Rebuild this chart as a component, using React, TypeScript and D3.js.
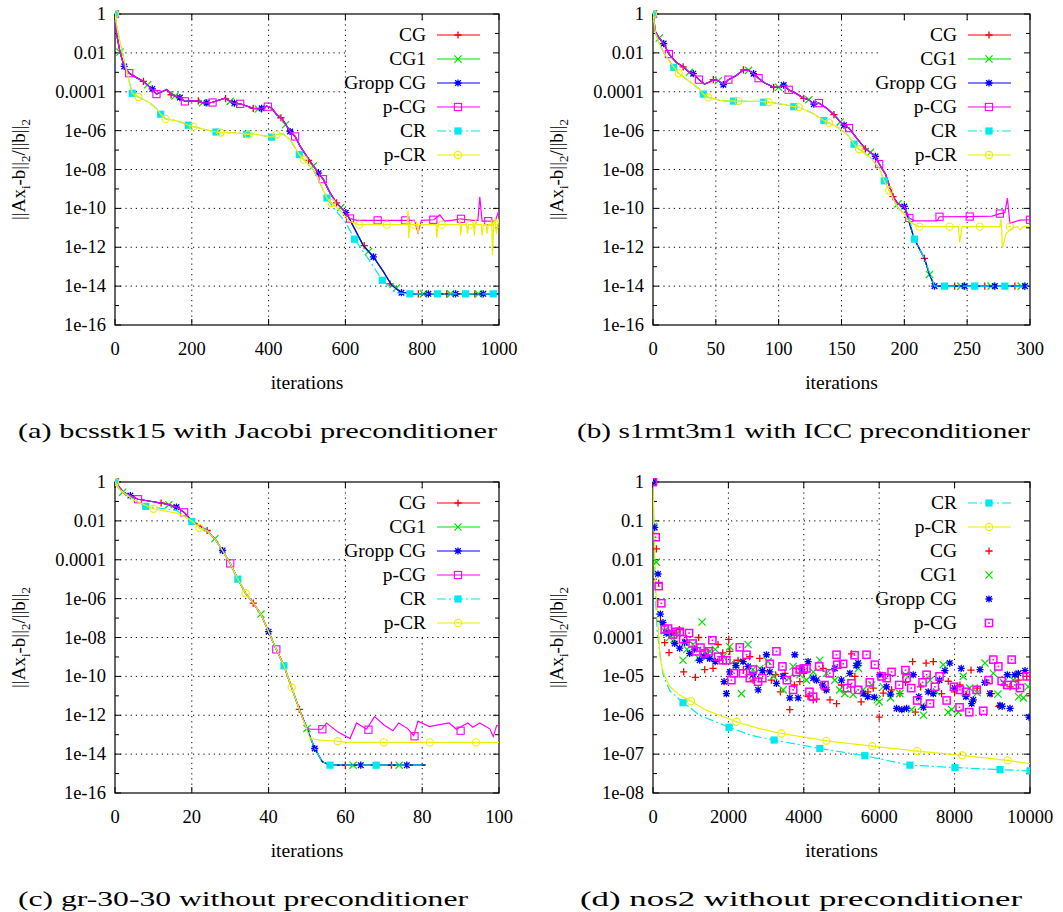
import React from 'react';
import * as d3 from 'd3';

type Pt = [number, number];

// ---------- shared tick labels ----------
const yLabelsWide = ['1', '0.01', '0.0001', '1e-06', '1e-08', '1e-10', '1e-12', '1e-14', '1e-16'];
const yLabelsNarrow = ['1', '0.1', '0.01', '0.001', '0.0001', '1e-05', '1e-06', '1e-07', '1e-08'];
const xTicksA = [0, 200, 400, 600, 800, 1000];
const xTicksB = [0, 50, 100, 150, 200, 250, 300];
const xTicksC = [0, 20, 40, 60, 80, 100];
const xTicksD = [0, 2000, 4000, 6000, 8000, 10000];
const legendOrder = ['CG', 'CG1', 'Gropp CG', 'p-CG', 'CR', 'p-CR'];
const legendOrderD = ['CR', 'p-CR', 'CG', 'CG1', 'Gropp CG', 'p-CG'];
const captions = [
  '(a) bcsstk15 with Jacobi preconditioner',
  '(b) s1rmt3m1 with ICC preconditioner',
  '(c) gr-30-30 without preconditioner',
  '(d) nos2 without preconditioner',
];

// ---------- (a) bcsstk15 ----------
const aCG: Pt[] = [[0, 1], [4, 1e-1], [13, 1.1e-2], [24, 2e-3], [37, 9e-4], [55, 5.5e-4], [74, 3.4e-4], [95, 1.4e-4], [108, 7.6e-5], [122, 1e-4], [135, 1.3e-4], [148, 6.8e-5], [169, 5e-5], [182, 3.2e-5], [213, 3.5e-5], [230, 2.6e-5], [252, 2.8e-5], [286, 4.7e-5], [308, 2.6e-5], [326, 2.4e-5], [360, 1.4e-5], [378, 1.3e-5], [395, 1.8e-5], [408, 1.45e-5], [421, 6.6e-6], [434, 4.5e-6], [456, 9e-7], [469, 5e-7], [482, 1.6e-7], [508, 2.6e-8], [530, 6.5e-9], [543, 3e-9], [560, 6.3e-10], [577, 1.9e-10], [603, 5.6e-11], [646, 1.3e-12], [673, 3.2e-13], [699, 5.6e-14], [720, 1.15e-14], [742, 5.2e-15], [768, 4e-15], [1000, 4e-15]];
const aCGMarks: Pt[] = [[0, 1], [74, 3.4e-4], [146, 7e-5], [217, 3.4e-5], [288, 4.4e-5], [360, 1.4e-5], [432, 4.6e-6], [504, 2.9e-8], [577, 1.9e-10], [649, 1.2e-12], [716, 1.3e-14], [790, 4e-15], [864, 4e-15], [937, 4e-15]];
const aCG1Marks: Pt[] = [[13, 1.1e-2], [85, 2.3e-4], [156, 6e-5], [228, 2.7e-5], [300, 3.2e-5], [373, 1.3e-5], [444, 2e-6], [516, 1.5e-8], [588, 1.1e-10], [660, 6e-13], [733, 8e-15], [803, 4e-15], [874, 4e-15], [946, 4e-15]];
const aGroppMarks: Pt[] = [[24, 2e-3], [97, 1.4e-4], [169, 5e-5], [239, 2.7e-5], [311, 2.6e-5], [382, 1.4e-5], [456, 9e-7], [530, 6.5e-9], [601, 6e-11], [673, 3.2e-13], [746, 4.6e-15], [816, 4e-15], [887, 4e-15], [959, 4e-15]];
const aPCGTail: Pt[] = [[612, 3e-11], [630, 2.4e-11], [780, 2.4e-11], [789, 5.5e-12], [798, 2.4e-11], [830, 2.6e-11], [846, 4.6e-11], [858, 2.2e-11], [880, 2.5e-11], [900, 2.9e-11], [930, 2.4e-11], [945, 2.4e-11], [950, 3.9e-10], [956, 2.2e-11], [990, 2.2e-11], [1000, 8e-11]];
const aPCGMarks: Pt[] = [[0, 1], [37, 9e-4], [108, 7.6e-5], [182, 3.2e-5], [254, 2.8e-5], [326, 2.4e-5], [398, 1.7e-5], [469, 5e-7], [541, 3.2e-9], [612, 3e-11], [684, 2.4e-11], [756, 2.4e-11], [829, 2.6e-11], [901, 2.9e-11], [972, 2.2e-11]];
const aCR: Pt[] = [[0, 1], [6, 1.6e-1], [22, 6e-3], [39, 2.3e-4], [45, 8.3e-5], [61, 5.4e-5], [87, 3e-5], [108, 1.4e-5], [119, 7e-6], [132, 4e-6], [161, 3.2e-6], [191, 1.9e-6], [204, 1.6e-6], [239, 1.1e-6], [263, 8.5e-7], [275, 7.8e-7], [308, 8e-7], [343, 6.6e-7], [360, 6.8e-7], [386, 5.5e-7], [408, 4.6e-7], [421, 6.3e-7], [437, 6.8e-7], [456, 3.4e-7], [480, 5.9e-8], [492, 3.2e-8], [516, 1e-8], [530, 3e-9], [552, 3.4e-10], [570, 1e-10], [600, 2e-11], [624, 2.6e-12], [660, 2.5e-13], [696, 2e-14], [733, 4.5e-15], [768, 4e-15], [1000, 4e-15]];
const aCRMarks: Pt[] = [[0, 1], [45, 8.3e-5], [119, 7e-6], [191, 1.9e-6], [263, 8.5e-7], [343, 6.6e-7], [408, 4.6e-7], [480, 5.9e-8], [552, 3.4e-10], [624, 2.6e-12], [696, 2e-14], [768, 4e-15], [840, 4e-15], [913, 4e-15], [985, 4e-15]];
const aPCRTail: Pt[] = [[564, 1.9e-10], [586, 8e-11], [599, 4e-11], [612, 2.1e-11], [634, 1.45e-11], [760, 1.45e-11], [763, 8e-11], [765, 3e-12], [768, 1.45e-11], [787, 1.45e-11], [789, 5e-12], [792, 1.45e-11], [836, 1.45e-11], [838, 3e-12], [841, 1.45e-11], [896, 1.45e-11], [898, 3e-11], [900, 4e-12], [903, 1.45e-11], [916, 1.45e-11], [918, 5e-12], [921, 1.45e-11], [934, 1.45e-11], [936, 4e-12], [939, 3e-11], [942, 1.45e-11], [954, 1.45e-11], [956, 4e-12], [959, 1.45e-11], [967, 1.45e-11], [969, 5e-12], [972, 1.45e-11], [979, 1.45e-11], [981, 2.5e-11], [983, 4e-13], [986, 1.45e-11], [990, 3e-11], [993, 5e-12], [997, 1.45e-11], [1000, 3e-11]];
const aPCRMarks: Pt[] = [[0, 1], [61, 5.4e-5], [132, 4e-6], [204, 1.6e-6], [275, 7.8e-7], [348, 6.3e-7], [421, 6.3e-7], [492, 3.2e-8], [564, 1.9e-10], [636, 1.45e-11], [708, 1.45e-11], [778, 1.45e-11], [851, 1.45e-11], [924, 1.45e-11], [993, 1.45e-11]];

// ---------- (b) s1rmt3m1 ----------
const bCG: Pt[] = [[0, 1], [2, 1.2e-1], [5, 5.8e-2], [8.5, 3e-2], [12.7, 8.7e-3], [18.6, 3.2e-3], [24.4, 1.9e-3], [28, 1.1e-3], [32, 8.5e-4], [36.6, 4.2e-4], [41, 2.5e-4], [45, 3.2e-4], [48, 4.2e-4], [52, 3.7e-4], [56, 2.3e-4], [60, 4.2e-4], [66, 6.6e-4], [72, 1.35e-3], [76, 1.26e-3], [80, 8.5e-4], [84, 5e-4], [89, 2.8e-4], [96, 1.7e-4], [100, 1.7e-4], [104, 2.2e-4], [108, 1.26e-4], [114, 8e-5], [120, 4.6e-5], [124, 3.9e-5], [128, 2.3e-5], [132, 2.6e-5], [138, 1.45e-5], [144, 6.6e-6], [149, 2.8e-6], [152, 1.9e-6], [156, 1.35e-6], [163, 3.4e-7], [169, 1.15e-7], [173, 7.6e-8], [177, 4.7e-8], [180, 1.9e-8], [185, 5.8e-9], [191, 4e-10], [195, 1.7e-10], [200, 1.26e-10], [208, 2.6e-12], [216, 2.7e-13], [220, 4e-14], [224, 1e-14], [298, 1e-14]];
const bCGMarks: Pt[] = [[0, 1], [24, 1.9e-3], [48, 4.2e-4], [72, 1.35e-3], [96, 1.7e-4], [120, 4.6e-5], [144, 6.6e-6], [169, 1.15e-7], [191, 4e-10], [216, 2.7e-13], [240, 1e-14], [264, 1e-14], [288, 1e-14]];
const bCG1Marks: Pt[] = [[5, 5.8e-2], [29, 1e-3], [52, 3.7e-4], [76, 1.26e-3], [100, 1.7e-4], [124, 3.9e-5], [149, 2.8e-6], [173, 7.6e-8], [195, 1.7e-10], [220, 4e-14], [245, 1e-14], [269, 1e-14], [293, 1e-14]];
const bGroppMarks: Pt[] = [[8.5, 3e-2], [32, 8.5e-4], [56, 2.3e-4], [80, 8.5e-4], [104, 2.2e-4], [128, 2.3e-5], [152, 1.9e-6], [177, 4.7e-8], [200, 1.26e-10], [224, 1e-14], [248, 1e-14], [272, 1e-14], [296, 1e-14]];
const bPCGTail: Pt[] = [[204, 3.2e-11], [208, 2.3e-11], [226, 2.3e-11], [228, 3.7e-11], [252, 3.8e-11], [270, 4e-11], [276, 5.4e-11], [280, 6e-11], [282, 3.4e-10], [284, 1.7e-11], [292, 2.5e-11], [300, 2.6e-11]];
const bPCGMarks: Pt[] = [[0, 1], [12.7, 8.7e-3], [36.6, 4.2e-4], [60, 4.2e-4], [84, 5e-4], [108, 1.26e-4], [132, 2.6e-5], [156, 1.35e-6], [180, 1.9e-8], [204, 3.2e-11], [228, 3.7e-11], [252, 3.8e-11], [276, 5.4e-11], [300, 2.6e-11]];
const bCR: Pt[] = [[0, 1], [2, 1e-1], [6, 2.1e-2], [10.6, 6.6e-3], [16.5, 1.8e-3], [20.4, 9e-4], [29, 3.4e-4], [37, 1.4e-4], [40, 7.6e-5], [44, 5.1e-5], [54, 3.5e-5], [64, 3.3e-5], [85, 3.2e-5], [92, 2.9e-5], [106, 2.1e-5], [112, 1.7e-5], [116, 1.6e-5], [127, 7.9e-6], [136, 3.3e-6], [140, 2.5e-6], [148, 1.35e-6], [156, 5e-7], [160, 2e-7], [164, 1.1e-7], [172, 4.7e-8], [180, 1.2e-8], [184, 2.6e-9], [188, 8.3e-10], [194, 1.26e-10], [200, 5e-11], [204, 3e-11], [208, 2.6e-12], [216, 2.7e-13], [224, 1e-14], [300, 1e-14]];
const bCRMarks: Pt[] = [[0, 1], [16.5, 1.8e-3], [40, 7.6e-5], [64, 3.3e-5], [88, 2.9e-5], [112, 1.7e-5], [136, 3.3e-6], [160, 2e-7], [184, 2.6e-9], [208, 2.6e-12], [232, 1e-14], [256, 1e-14], [280, 1e-14]];
const bPCRTail: Pt[] = [[204, 2.1e-11], [211, 1.15e-11], [243, 1.15e-11], [244, 1.8e-12], [246, 1.15e-11], [276, 1.15e-11], [277, 3e-11], [278, 9e-13], [281, 5e-12], [286, 1e-11], [290, 1.15e-11], [292, 8e-12], [295, 1.15e-11], [300, 1.26e-11]];
const bPCRMarks: Pt[] = [[0, 1], [20.4, 9e-4], [44, 5.1e-5], [68, 3.3e-5], [92, 2.9e-5], [116, 1.6e-5], [140, 2.5e-6], [164, 1.1e-7], [188, 8.3e-10], [212, 1.15e-11], [236, 1.15e-11], [260, 1.15e-11], [284, 1.15e-11]];

// ---------- (c) gr-30-30 ----------
const cCG: Pt[] = [[0, 1], [2.2, 3e-1], [4, 2e-1], [6, 1.3e-1], [12, 8.3e-2], [14, 6.8e-2], [16, 5.1e-2], [18, 2.75e-2], [20, 1e-2], [24, 3.2e-3], [26, 1.2e-3], [28, 3e-4], [30, 6.5e-5], [32, 1e-5], [34, 1.9e-6], [36, 5.8e-7], [38, 1.6e-7], [40, 2e-8], [42, 2.45e-9], [44, 3.5e-10], [46, 2.7e-11], [48, 2e-12], [50, 2.1e-13], [52, 1.95e-14], [54, 4e-15], [56, 2.7e-15], [81, 2.7e-15]];
const cCGMarks: Pt[] = [[0, 1], [12, 8.3e-2], [24, 3.2e-3], [36, 5.8e-7], [48, 2e-12], [60, 2.7e-15], [72, 2.7e-15]];
const cCG1Marks: Pt[] = [[2, 3e-1], [14, 6.8e-2], [26, 1.2e-3], [38, 1.6e-7], [50, 2.1e-13], [62, 2.7e-15], [74, 2.7e-15]];
const cGroppMarks: Pt[] = [[4, 2e-1], [16, 5.1e-2], [28, 3e-4], [40, 2e-8], [52, 1.95e-14], [64, 2.7e-15], [76, 2.7e-15]];
const cPCGTail: Pt[] = [[51, 1.9e-13], [53.8, 1.9e-13], [55.1, 4e-13], [58, 1.4e-13], [61.2, 6.3e-14], [62.9, 4e-13], [65.5, 1.9e-13], [67.6, 8.5e-13], [70.2, 3e-13], [72.4, 1.6e-13], [73.9, 4e-13], [76.3, 2e-13], [77.8, 9e-14], [78.9, 5e-13], [81.9, 2.6e-13], [84.5, 3.3e-13], [87, 4e-13], [88.9, 1.9e-13], [91.9, 4e-13], [93.2, 2.4e-13], [95, 4e-13], [97.6, 2e-13], [98.5, 8e-14], [99.4, 3e-13], [100, 2.8e-13]];
const cPCGMarks: Pt[] = [[0, 1], [6, 1.3e-1], [18, 2.75e-2], [30, 6.5e-5], [42, 2.45e-9], [54, 1.9e-13], [66, 1.8e-13], [78, 8.3e-14], [90, 1.6e-13]];
const cCRHead: Pt[] = [[0, 1], [1.3, 3.7e-1], [8, 5.6e-2], [16, 3.5e-2]];
const cCRMarks: Pt[] = [[0, 1], [8, 5.6e-2], [20, 9.3e-3], [32, 1e-5], [44, 3.5e-10], [56, 2.7e-15], [68, 2.7e-15]];
const cPCRHead: Pt[] = [[0, 1], [1.3, 4e-1], [4.8, 1.2e-1], [10, 4.2e-2], [16, 2.5e-2], [18, 1.7e-2], [20, 1e-2], [22, 4.3e-3], [24, 3e-3]];
const cPCRTail: Pt[] = [[50.8, 6.3e-14], [53.4, 5.2e-14], [58, 4.6e-14], [60.3, 4e-14], [100, 4e-14]];
const cPCRMarks: Pt[] = [[0, 1], [10, 4.2e-2], [22, 4.3e-3], [34, 1.9e-6], [46, 2.7e-11], [58, 4.6e-14], [70, 4e-14], [82, 4e-14], [94, 4e-14]];

// ---------- (d) nos2 ----------
const dCR: Pt[] = [[0, 1], [20, 1e-1], [40, 1e-2], [70, 1e-3], [110, 1.5e-4], [180, 4e-5], [260, 1.2e-5], [350, 7e-6], [452, 4.2e-6], [713, 2.5e-6], [818, 2.1e-6], [1235, 1e-6], [2018, 4.9e-7], [2627, 3e-7], [3213, 2.3e-7], [4425, 1.4e-7], [5620, 9.1e-8], [6815, 5.2e-8], [8010, 4.5e-8], [9204, 4e-8], [10000, 3.7e-8]];
const dCRMarks: Pt[] = [[0, 1], [797, 2.1e-6], [2018, 4.9e-7], [3213, 2.3e-7], [4425, 1.4e-7], [5620, 9.1e-8], [6815, 5.2e-8], [8010, 4.5e-8], [9204, 4e-8], [10000, 3.7e-8]];
const dPCR: Pt[] = [[0, 1], [25, 1e-1], [50, 1e-2], [80, 1.5e-3], [120, 4e-4], [148, 1.3e-4], [191, 2.9e-5], [278, 1.2e-5], [452, 5.4e-6], [713, 3.3e-6], [1009, 2.3e-6], [1409, 1.35e-6], [2212, 6.8e-7], [2800, 4.6e-7], [3407, 3.4e-7], [4602, 2.2e-7], [5815, 1.6e-7], [7009, 1.2e-7], [8204, 9.3e-8], [9408, 6.9e-8], [10000, 5.7e-8]];
const dPCRMarks: Pt[] = [[0, 1], [1009, 2.3e-6], [2212, 6.8e-7], [3407, 3.4e-7], [4602, 2.2e-7], [5815, 1.6e-7], [7009, 1.2e-7], [8204, 9.3e-8], [9408, 6.9e-8]];
const dCG: Pt[] = [[0, 1], [90, 1.9e-2], [150, 2.5e-3], [200, 2.6e-4], [310, 7.4e-5], [425, 4.1e-5], [560, 1.3e-4], [700, 1.6e-4], [814, 1.3e-5], [900, 7.5e-5], [1124, 9.4e-6], [1212, 1e-4], [1372, 1.5e-5], [1450, 3e-5], [1593, 1.6e-5], [1726, 6.6e-5], [1850, 4e-5], [2009, 9e-5], [2035, 4.4e-5], [2150, 2.2e-5], [2257, 2.6e-5], [2400, 1.5e-5], [2567, 3.2e-5], [2655, 8e-6], [2832, 2.9e-5], [2950, 1.4e-5], [3142, 8e-6], [3250, 1.1e-5], [3381, 4e-6], [3500, 1.2e-5], [3629, 1.4e-6], [3750, 6e-6], [3894, 7.3e-6], [4000, 1.2e-5], [4115, 3e-6], [4250, 2.5e-6], [4337, 2.6e-6], [4514, 1.6e-5], [4558, 4.5e-6], [4695, 2.5e-6], [4869, 2e-6], [5000, 6e-6], [5266, 3.8e-5], [5354, 1e-5], [5521, 2.2e-6], [5700, 4e-6], [5841, 5e-6], [6000, 9e-7], [6107, 3.7e-6], [6328, 4.5e-6], [6549, 3.6e-6], [6700, 7e-6], [6885, 2.4e-5], [6957, 1.2e-6], [7100, 5.4e-6], [7244, 2.2e-5], [7436, 2.4e-5], [7655, 3.6e-6], [7832, 7.5e-6], [8000, 4e-6], [8142, 6e-6], [8319, 3.4e-6], [8436, 1.45e-5], [8600, 5e-6], [8850, 7e-6], [8982, 3.6e-6], [9176, 1.7e-6], [9300, 6e-6], [9470, 5.4e-6], [9690, 8e-6], [9912, 1e-5], [10000, 3.6e-6]];
const dCG1: Pt[] = [[0, 1], [18, 7.2e-2], [88, 8.7e-3], [300, 1.5e-4], [442, 1e-4], [560, 9e-5], [650, 1.3e-4], [797, 2.6e-5], [900, 5e-5], [1062, 6.6e-5], [1200, 3e-5], [1301, 2.5e-4], [1400, 4e-5], [1505, 4.4e-5], [1650, 5e-5], [1859, 3.2e-5], [2035, 5.8e-5], [2200, 2e-5], [2346, 3.6e-6], [2522, 6.6e-5], [2650, 1.5e-5], [2832, 1.6e-5], [3053, 2.4e-5], [3200, 1e-5], [3452, 4.5e-6], [3600, 9e-6], [3717, 1.8e-5], [3900, 1.1e-5], [4071, 8e-6], [4250, 1.3e-5], [4425, 2.6e-5], [4602, 1.2e-5], [4823, 8e-6], [4950, 4.5e-6], [5089, 3.6e-6], [5310, 3.4e-6], [5450, 1.6e-5], [5575, 4.5e-6], [5800, 6e-6], [5947, 2.5e-6], [6000, 2.2e-6], [6107, 5.4e-6], [6300, 2.8e-6], [6549, 3.6e-6], [6700, 1.1e-5], [6859, 1.4e-6], [7124, 1.7e-6], [7175, 1e-6], [7350, 8e-6], [7520, 4e-6], [7700, 2e-5], [7828, 1.2e-6], [7921, 1.4e-6], [8098, 1.2e-6], [8230, 1e-5], [8400, 5e-6], [8600, 3.8e-6], [8806, 2.2e-5], [9027, 1.2e-5], [9150, 3.5e-6], [9293, 7e-6], [9558, 8e-6], [9700, 3e-6], [9824, 2.8e-6], [9950, 5.4e-6]];
const dGropp: Pt[] = [[0, 1], [44, 6.8e-2], [133, 4.3e-3], [195, 4e-4], [265, 2.4e-4], [350, 1.3e-4], [442, 1.3e-4], [575, 7e-5], [708, 5.3e-5], [840, 7.5e-5], [973, 3.9e-5], [1100, 5e-5], [1239, 2.6e-5], [1350, 3.3e-5], [1505, 2.9e-5], [1650, 2.4e-5], [1885, 7.3e-6], [1947, 3.6e-6], [2035, 1.3e-5], [2200, 1.9e-5], [2390, 2.4e-5], [2522, 1.8e-5], [2650, 1.1e-5], [2788, 4.5e-6], [2900, 1.4e-5], [3009, 3.6e-5], [3098, 1.3e-5], [3275, 6.6e-6], [3450, 1e-5], [3629, 2.8e-6], [3761, 3.6e-5], [3850, 2.8e-6], [3950, 1.5e-5], [4115, 2.4e-5], [4250, 9e-6], [4337, 8e-6], [4500, 6e-6], [4602, 4.5e-6], [4823, 1.6e-5], [5000, 8e-6], [5222, 1.2e-5], [5391, 1.9e-5], [5443, 2.2e-5], [5575, 3.6e-6], [5695, 3e-6], [5869, 2.9e-6], [6018, 1.1e-5], [6195, 5.4e-6], [6300, 3.5e-6], [6460, 1.5e-6], [6600, 1.4e-6], [6726, 1.5e-6], [6903, 1.1e-5], [7050, 3e-6], [7175, 1.6e-6], [7300, 4e-6], [7434, 3.6e-6], [7600, 8e-6], [7743, 1.4e-5], [7871, 2.2e-5], [8000, 5e-6], [8175, 1.6e-5], [8300, 3e-6], [8453, 2e-6], [8496, 2.5e-6], [8673, 1.5e-5], [8800, 7e-6], [8938, 3.6e-6], [9204, 1.8e-6], [9263, 1.7e-6], [9400, 1.1e-5], [9470, 1.5e-6], [9600, 1.1e-5], [9690, 1.2e-5], [9868, 1.4e-5], [9974, 9e-7]];
const dPCG: Pt[] = [[0, 1], [71, 3.8e-2], [150, 2.1e-3], [221, 7.6e-4], [310, 1.6e-4], [398, 1.7e-4], [531, 1.2e-4], [620, 1.4e-4], [708, 1.4e-4], [800, 9e-5], [956, 1.3e-4], [1050, 7e-5], [1150, 4.4e-5], [1260, 5.5e-5], [1372, 3.9e-5], [1480, 4.4e-5], [1575, 8.5e-5], [1726, 3.2e-5], [1850, 2.6e-5], [1947, 2.6e-5], [2080, 8e-6], [2150, 1.2e-5], [2301, 5.6e-5], [2390, 1.2e-5], [2480, 3.6e-5], [2567, 9e-6], [2650, 1.5e-5], [2788, 7.3e-6], [2900, 9e-6], [3098, 2.1e-5], [3275, 4.4e-5], [3434, 1.8e-5], [3550, 8e-6], [3717, 4.5e-6], [3800, 1.3e-5], [3894, 1.5e-5], [4000, 1.6e-5], [4071, 1.6e-5], [4150, 4e-6], [4248, 3e-6], [4407, 1.8e-5], [4550, 6e-6], [4690, 1.2e-5], [4868, 3.6e-5], [4886, 2e-5], [5045, 2.1e-5], [5150, 5e-6], [5266, 6.6e-6], [5347, 3.5e-5], [5443, 4.5e-6], [5664, 3.6e-5], [5750, 7e-6], [5885, 2e-5], [6063, 1e-5], [6200, 9e-6], [6328, 1.3e-5], [6531, 6e-6], [6696, 1.45e-5], [6726, 9e-6], [6850, 5e-6], [7009, 2.4e-6], [7150, 7e-6], [7257, 1.1e-5], [7349, 2e-6], [7478, 5.4e-6], [7600, 1e-5], [7788, 2.4e-6], [7983, 5.4e-6], [8131, 1.6e-6], [8142, 4.5e-6], [8300, 4e-6], [8390, 1.2e-6], [8585, 4.5e-6], [8762, 1.3e-6], [8900, 8e-6], [9027, 2.7e-5], [9160, 1.8e-5], [9248, 7.6e-6], [9400, 6e-6], [9514, 2.7e-5], [9600, 6e-6], [9735, 5e-6], [9912, 1e-5]];

// ---------- styles ----------
const STYLE: Record<string, { color: string; marker: string; dash?: string }> = {
  'CG': { color: '#ff0000', marker: 'plus' },
  'CG1': { color: '#00e000', marker: 'cross' },
  'Gropp CG': { color: '#0000ff', marker: 'star' },
  'p-CG': { color: '#ff00ff', marker: 'square' },
  'CR': { color: '#00e8f0', marker: 'fsquare', dash: '9,3,2,3' },
  'p-CR': { color: '#eeee00', marker: 'circle' },
};
const FONT = 'Liberation Serif';
const txt = { fontFamily: FONT, fill: '#000' };

type Series = { name: string; line?: Pt[]; marks: Pt[] };

function Marker({ kind, x, y, color, dotted }: { kind: string; x: number; y: number; color: string; dotted?: boolean }) {
  const s = 3.6;
  if (kind === 'plus') return <path d={`M${x - s},${y}H${x + s}M${x},${y - s}V${y + s}`} stroke={color} strokeWidth={1.3} />;
  if (kind === 'cross') return <path d={`M${x - s},${y - s}L${x + s},${y + s}M${x - s},${y + s}L${x + s},${y - s}`} stroke={color} strokeWidth={1.2} />;
  if (kind === 'star')
    return <path d={`M${x - s},${y}H${x + s}M${x},${y - s}V${y + s}M${x - s + 0.8},${y - s + 0.8}L${x + s - 0.8},${y + s - 0.8}M${x - s + 0.8},${y + s - 0.8}L${x + s - 0.8},${y - s + 0.8}`} stroke={color} strokeWidth={1.3} />;
  if (kind === 'square')
    return (
      <g>
        <rect x={x - s} y={y - s} width={2 * s} height={2 * s} fill="none" stroke={color} strokeWidth={dotted ? 1.5 : 1.1} />
        {dotted && <rect x={x - 0.8} y={y - 0.8} width={1.6} height={1.6} fill={color} />}
      </g>
    );
  if (kind === 'fsquare') return <rect x={x - s} y={y - s} width={2 * s} height={2 * s} fill={color} />;
  return (
    <g>
      <circle cx={x} cy={y} r={s} fill="none" stroke={color} strokeWidth={1.1} />
      <path d={`M${x - 1.2},${y}H${x + 1.2}`} stroke={color} strokeWidth={1} />
    </g>
  );
}

type PanelProps = {
  id: string;
  left: number;
  top: number;
  width: number;
  height: number;
  xMax: number;
  xTicks: number[];
  yLabels: string[];
  series: Series[];
  legend: string[];
  caption: string;
  captionX: number;
  captionW: number;
  dotted?: boolean;
};

function Panel(p: PanelProps) {
  const right = p.left + p.width;
  const bottom = p.top + p.height;
  const yVals = p.yLabels.map(Number);
  const x = d3.scaleLinear().domain([0, p.xMax]).range([p.left, right]);
  const y = d3.scaleLog().domain([yVals[yVals.length - 1], yVals[0]]).range([bottom, p.top]);
  const line = d3.line<Pt>().x((d) => x(d[0])).y((d) => y(d[1]));
  const minor = d3.pairs(yVals).map(([a, b]) => Math.sqrt(a * b));
  const midY = (p.top + bottom) / 2;
  const grid = { stroke: '#000', strokeWidth: 1, strokeDasharray: '1.2,4' };

  return (
    <g>
      <defs>
        <clipPath id={p.id}>
          <rect x={p.left} y={p.top - 4} width={p.width} height={p.height + 8} />
        </clipPath>
      </defs>
      {/* grid */}
      {p.xTicks.slice(1, -1).map((t) => (
        <line key={'gx' + t} x1={x(t)} x2={x(t)} y1={p.top} y2={bottom} {...grid} />
      ))}
      {yVals.slice(1, -1).map((v) => (
        <line key={'gy' + v} x1={p.left} x2={right} y1={y(v)} y2={y(v)} {...grid} />
      ))}
      {/* key area hides the grid */}
      <rect x={right - 150} y={p.top + 7} width={149} height={145} fill="#fff" />
      {/* ticks */}
      {yVals.map((v, i) => (
        <g key={'ty' + v}>
          <line x1={p.left} x2={p.left + 6} y1={y(v)} y2={y(v)} stroke="#000" />
          <line x1={right} x2={right - 6} y1={y(v)} y2={y(v)} stroke="#000" />
          <text x={p.left - 9} y={y(v) + 6} fontSize={18.5} textAnchor="end" style={txt}>
            {p.yLabels[i]}
          </text>
        </g>
      ))}
      {minor.map((v) => (
        <g key={'my' + v}>
          <line x1={p.left} x2={p.left + 4} y1={y(v)} y2={y(v)} stroke="#000" />
          <line x1={right} x2={right - 4} y1={y(v)} y2={y(v)} stroke="#000" />
        </g>
      ))}
      {p.xTicks.map((t) => (
        <g key={'tx' + t}>
          <line x1={x(t)} x2={x(t)} y1={bottom} y2={bottom - 6} stroke="#000" />
          <line x1={x(t)} x2={x(t)} y1={p.top} y2={p.top + 6} stroke="#000" />
          <text x={x(t)} y={bottom + 30} fontSize={18.5} textAnchor="middle" style={txt}>
            {t}
          </text>
        </g>
      ))}
      <rect x={p.left} y={p.top} width={p.width} height={p.height} fill="none" stroke="#000" strokeWidth={1.2} />
      {/* data */}
      <g clipPath={`url(#${p.id})`}>
        {p.series.map((s) => {
          const st = STYLE[s.name];
          return (
            <g key={s.name}>
              {s.line && <path d={line(s.line) || ''} fill="none" stroke={st.color} strokeWidth={1.2} strokeDasharray={st.dash} />}
              {s.marks.map((m, i) => (
                <Marker key={i} kind={st.marker} x={x(m[0])} y={y(m[1])} color={st.color} dotted={p.dotted} />
              ))}
            </g>
          );
        })}
      </g>
      {/* legend */}
      {p.legend.map((name, i) => {
        const st = STYLE[name];
        const hasLine = p.series.find((s) => s.name === name)?.line;
        const ry = p.top + 21 + i * 24;
        return (
          <g key={'lg' + name}>
            <text x={right - 73} y={ry + 6} fontSize={19.5} textAnchor="end" style={txt}>
              {name}
            </text>
            {hasLine && <line x1={right - 62} x2={right - 19} y1={ry} y2={ry} stroke={st.color} strokeWidth={1.2} strokeDasharray={st.dash} />}
            <Marker kind={st.marker} x={right - 41} y={ry} color={st.color} dotted={p.dotted} />
          </g>
        );
      })}
      {/* axis titles */}
      <text x={(p.left + right) / 2} y={bottom + 64} fontSize={19.5} textAnchor="middle" style={txt}>
        iterations
      </text>
      <text transform={`translate(${p.left - 90},${midY}) rotate(-90)`} fontSize={19} textAnchor="middle" style={txt}>
        ||Ax<tspan fontSize={13} dy={5}>i</tspan>
        <tspan dy={-5}>-b||</tspan>
        <tspan fontSize={13} dy={5}>2</tspan>
        <tspan dy={-5}>/||b||</tspan>
        <tspan fontSize={13} dy={5}>2</tspan>
      </text>
      <text x={p.captionX} y={bottom + 113} fontSize={22} textLength={p.captionW} lengthAdjust="spacingAndGlyphs" style={txt}>
        {p.caption}
      </text>
    </g>
  );
}

export default function App() {
  const aPCG = [...aCG.filter((d) => d[0] <= 603), ...aPCGTail];
  const aPCR = [...aCR.filter((d) => d[0] <= 552), ...aPCRTail];
  const bPCG = [...bCG.filter((d) => d[0] <= 200), ...bPCGTail];
  const bPCR = [...bCR.filter((d) => d[0] <= 200), ...bPCRTail];
  const cPCG = [...cCG.filter((d) => d[0] <= 50), ...cPCGTail];
  const cCR = [...cCRHead, ...cCG.filter((d) => d[0] >= 20)];
  const cPCR = [...cPCRHead, ...cCG.filter((d) => d[0] >= 26 && d[0] <= 48), ...cPCRTail];

  return (
    <svg width={1063} height={912} style={{ position: 'absolute', left: 0, top: 0, background: '#fff' }}>
      <rect width={1063} height={912} fill="#fff" />
      <Panel
        id="clipA" left={115} top={14} width={384} height={311} xMax={1000} xTicks={xTicksA} yLabels={yLabelsWide}
        legend={legendOrder} caption={captions[0]} captionX={18} captionW={479}
        series={[
          { name: 'CG', line: aCG, marks: aCGMarks },
          { name: 'CG1', line: aCG, marks: aCG1Marks },
          { name: 'Gropp CG', line: aCG, marks: aGroppMarks },
          { name: 'p-CG', line: aPCG, marks: aPCGMarks },
          { name: 'CR', line: aCR, marks: aCRMarks },
          { name: 'p-CR', line: aPCR, marks: aPCRMarks },
        ]}
      />
      <Panel
        id="clipB" left={653} top={14} width={377} height={311} xMax={300} xTicks={xTicksB} yLabels={yLabelsWide}
        legend={legendOrder} caption={captions[1]} captionX={577} captionW={453}
        series={[
          { name: 'CG', line: bCG, marks: bCGMarks },
          { name: 'CG1', line: bCG, marks: bCG1Marks },
          { name: 'Gropp CG', line: bCG, marks: bGroppMarks },
          { name: 'p-CG', line: bPCG, marks: bPCGMarks },
          { name: 'CR', line: bCR, marks: bCRMarks },
          { name: 'p-CR', line: bPCR, marks: bPCRMarks },
        ]}
      />
      <Panel
        id="clipC" left={115} top={482} width={384} height={311} xMax={100} xTicks={xTicksC} yLabels={yLabelsWide}
        legend={legendOrder} caption={captions[2]} captionX={18} captionW={450}
        series={[
          { name: 'CG', line: cCG, marks: cCGMarks },
          { name: 'CG1', line: cCG, marks: cCG1Marks },
          { name: 'Gropp CG', line: cCG, marks: cGroppMarks },
          { name: 'p-CG', line: cPCG, marks: cPCGMarks },
          { name: 'CR', line: cCR, marks: cCRMarks },
          { name: 'p-CR', line: cPCR, marks: cPCRMarks },
        ]}
      />
      <Panel
        id="clipD" left={653} top={482} width={377} height={311} xMax={10000} xTicks={xTicksD} yLabels={yLabelsNarrow}
        legend={legendOrderD} caption={captions[3]} captionX={580} captionW={442} dotted
        series={[
          { name: 'CR', line: dCR, marks: dCRMarks },
          { name: 'p-CR', line: dPCR, marks: dPCRMarks },
          { name: 'CG', marks: dCG },
          { name: 'CG1', marks: dCG1 },
          { name: 'Gropp CG', marks: dGropp },
          { name: 'p-CG', marks: dPCG },
        ]}
      />
    </svg>
  );
}
